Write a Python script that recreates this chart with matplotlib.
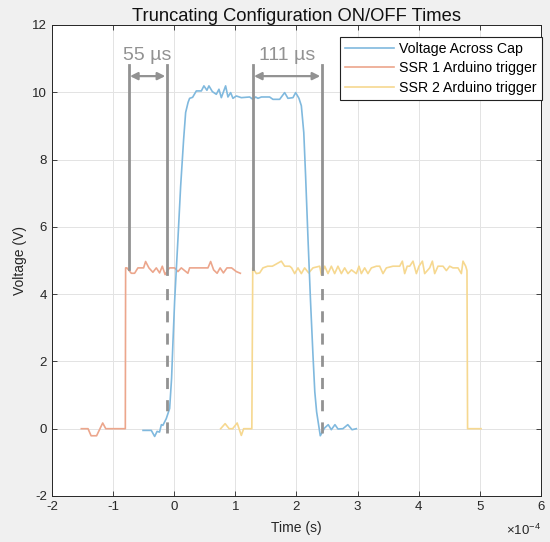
import matplotlib
matplotlib.use('Agg')
import matplotlib.pyplot as plt
import numpy as np
from matplotlib.ticker import FuncFormatter

# time in units of 1e-4 s, voltage in V
cap_t = [-0.51, -0.375, -0.32, -0.28, -0.24, -0.21, -0.185, -0.13, -0.075, -0.043,
         -0.02, 0.007, 0.06, 0.105, 0.154, 0.187, 0.227, 0.252, 0.301, 0.362,
         0.444, 0.486, 0.535, 0.568, 0.624, 0.689, 0.732, 0.771, 0.841, 0.879,
         0.923, 0.961, 1.016, 1.098, 1.234, 1.288, 1.332, 1.370, 1.426, 1.561,
         1.615, 1.725, 1.807, 1.861, 1.943, 1.987, 2.041, 2.08, 2.12, 2.15,
         2.19, 2.23, 2.27, 2.30, 2.33, 2.39, 2.46, 2.52, 2.57, 2.63,
         2.68, 2.76, 2.84, 2.91, 2.98]
cap_v = [-0.05, -0.05, -0.23, -0.08, -0.10, 0.12, 0.10, 0.30, 0.60, 1.5,
         2.6, 3.8, 5.6, 7.2, 8.6, 9.4, 9.7, 9.82, 9.85, 10.04,
         10.04, 10.19, 10.06, 10.19, 10.02, 9.94, 10.09, 9.84, 10.19, 9.86,
         9.99, 9.82, 9.89, 9.84, 9.86, 9.79, 9.86, 9.82, 9.86, 9.86,
         9.79, 9.79, 9.99, 9.82, 9.84, 9.99, 9.82, 9.6, 8.8, 7.5,
         5.6, 3.8, 2.2, 1.1, 0.5, -0.21, 0.02, 0.12, -0.03, 0.12,
         -0.01, 0.0, 0.12, -0.03, 0.0]

ssr1_t = [-1.52, -1.41, -1.36, -1.27, -1.17, -1.12, -0.80, -0.795, -0.774, -0.702,
          -0.648, -0.594, -0.501, -0.468, -0.414, -0.349, -0.293, -0.239, -0.195, -0.149,
          -0.103, -0.075, 0.007, 0.061, 0.116, 0.224, 0.252, 0.552, 0.596, 0.645,
          0.702, 0.751, 0.805, 0.863, 0.939, 1.016, 1.082]
ssr1_v = [0, 0, -0.21, -0.21, 0.17, 0, 0, 4.78, 4.78, 4.62,
          4.62, 4.78, 4.78, 4.97, 4.78, 4.65, 4.78, 4.63, 4.83, 4.58,
          4.72, 4.78, 4.78, 4.67, 4.78, 4.62, 4.78, 4.78, 4.97, 4.72,
          4.62, 4.78, 4.63, 4.78, 4.78, 4.67, 4.62]

ssr2_t = [0.76, 0.833, 0.899, 0.956, 1.03, 1.098, 1.136, 1.27, 1.285, 1.344,
          1.398, 1.452, 1.529, 1.606, 1.753, 1.807, 1.889, 1.921, 1.971, 2.025,
          2.080, 2.134, 2.20, 2.27, 2.38, 2.408, 2.462, 2.516, 2.571, 2.625,
          2.679, 2.735, 2.789, 2.843, 2.90, 2.98, 3.023, 3.062, 3.116, 3.170,
          3.226, 3.308, 3.362, 3.416, 3.471, 3.579, 3.689, 3.733, 3.771, 3.812,
          3.853, 3.907, 3.962, 4.005, 4.061, 4.098, 4.180, 4.224, 4.262, 4.316,
          4.398, 4.453, 4.507, 4.561, 4.643, 4.698, 4.725, 4.769, 4.79, 4.80,
          5.02]
ssr2_v = [0, 0.15, 0, 0, 0.17, -0.2, 0, 0, 4.78, 4.61,
          4.63, 4.78, 4.83, 4.83, 4.98, 4.83, 4.83, 4.78, 4.61, 4.78,
          4.61, 4.78, 4.63, 4.78, 4.83, 4.57, 4.83, 4.61, 4.83, 4.61,
          4.83, 4.61, 4.78, 4.61, 4.72, 4.61, 4.83, 4.61, 4.78, 4.61,
          4.78, 4.83, 4.83, 4.61, 4.78, 4.83, 4.83, 4.98, 4.61, 4.83,
          4.83, 4.98, 4.61, 4.83, 4.98, 4.61, 4.78, 4.98, 4.61, 4.83,
          4.83, 4.70, 4.83, 4.78, 4.78, 4.61, 4.98, 4.83, 4.7, 0,
          0]

# delay markers (start, end) in 1e-4 s, labels
gap_edges = [(-0.746, -0.124), (1.283, 2.412)]
gap_labels = ['55 µs', '111 µs']
series_labels = ['Voltage Across Cap', 'SSR 1 Arduino trigger', 'SSR 2 Arduino trigger']

plt.rcParams['font.family'] = ['Liberation Sans', 'DejaVu Sans']
plt.rcParams['mathtext.fontset'] = 'custom'
plt.rcParams['mathtext.rm'] = 'Liberation Sans'
plt.rcParams['mathtext.it'] = 'Liberation Sans'
plt.rcParams['axes.unicode_minus'] = False

SCALE = 1e-4
blue = '#80b9de'
orange = '#eca68c'
yellow = '#f6d890'
gray = '#929292'
dark = '#262626'

fig = plt.figure(figsize=(5.5, 5.42), dpi=100, facecolor='#f0f0f0')
ax = fig.add_axes([0.0945, 0.0849, 0.889, 0.869])
ax.set_facecolor('white')

ax.plot(np.array(cap_t) * SCALE, cap_v, color=blue, lw=1.2, label=series_labels[0], zorder=3)
ax.plot(np.array(ssr1_t) * SCALE, ssr1_v, color=orange, lw=1.2, label=series_labels[1], zorder=2)
ax.plot(np.array(ssr2_t) * SCALE, ssr2_v, color=yellow, lw=1.2, label=series_labels[2], zorder=2)

# delay annotations
top = 10.8
for (x0, x1), lab in zip(gap_edges, gap_labels):
    ax.plot([x0 * SCALE, x0 * SCALE], [4.75, top], color=gray, lw=2, zorder=5)
    ax.plot([x1 * SCALE, x1 * SCALE], [4.6, top], color=gray, lw=2, zorder=5)
    ax.plot([x1 * SCALE, x1 * SCALE], [-0.12, 4.4], color=gray, lw=2,
            linestyle=(0, (4, 4)), zorder=5)
    ax.annotate('', xy=(x1 * SCALE, 10.48), xytext=(x0 * SCALE, 10.48),
                arrowprops=dict(arrowstyle='<|-|>', color=gray, lw=1.6,
                                mutation_scale=11, shrinkA=1, shrinkB=1),
                zorder=5)
    ax.text((x0 + x1) / 2 * SCALE, 11.1, lab, color=gray, fontsize=14,
            ha='center', va='center', zorder=5)

ax.set_xlim(-2 * SCALE, 6 * SCALE)
ax.set_ylim(-2, 12)
ax.set_xticks(np.arange(-2, 7) * SCALE)
ax.set_yticks(np.arange(-2, 13, 2))
ax.xaxis.set_major_formatter(FuncFormatter(lambda v, p: '%g' % round(v / SCALE, 6)))
ax.text(1.0, -0.073, r'$\times 10^{-4}$', transform=ax.transAxes,
        ha='right', va='center', fontsize=9.5, color=dark)

ax.grid(True, color='#e3e3e3', lw=0.7)
ax.set_axisbelow(True)
ax.tick_params(direction='in', length=3.5, width=0.6, top=True, right=True,
               labelsize=9.5, colors=dark)
for s in ax.spines.values():
    s.set_color(dark)
    s.set_linewidth(0.7)

ax.set_title('Truncating Configuration ON/OFF Times', fontsize=13.2, pad=3, color='#111111')
ax.set_xlabel('Time (s)', fontsize=10, color=dark, labelpad=6)
ax.set_ylabel('Voltage (V)', fontsize=10, color=dark)

leg = ax.legend(loc='upper right', bbox_to_anchor=(1.002, 0.975), borderaxespad=0,
                fancybox=False, edgecolor='#222222', fontsize=10.2,
                handlelength=3.5, handletextpad=0.35, labelspacing=0.4,
                borderpad=0.35, framealpha=1)
leg.get_frame().set_linewidth(0.8)

plt.savefig('out.png', dpi=100, facecolor=fig.get_facecolor())
